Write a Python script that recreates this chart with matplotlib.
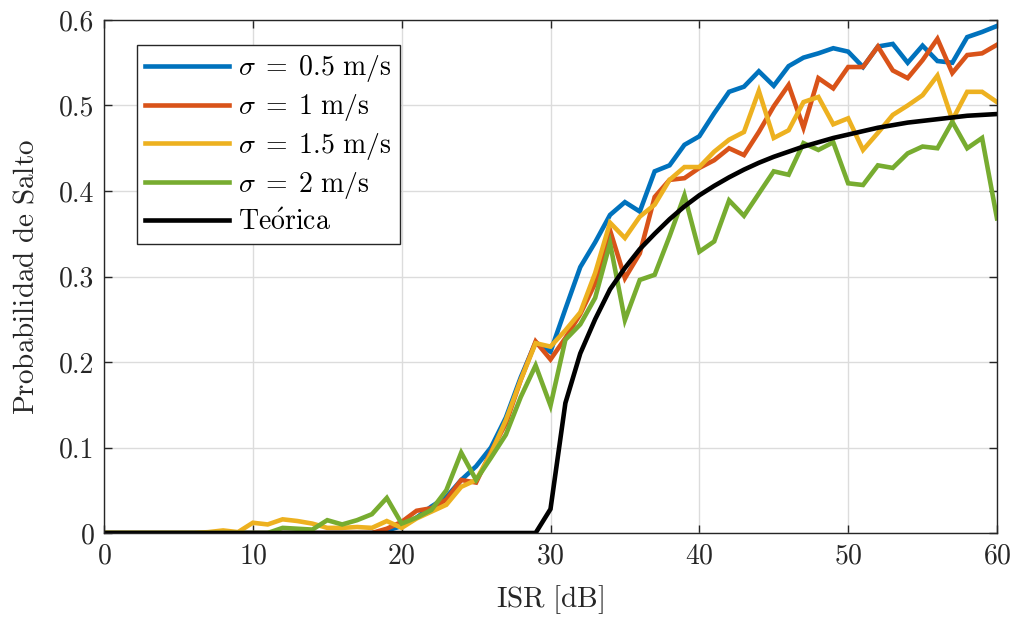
import numpy as np
import matplotlib
matplotlib.use("Agg")
import matplotlib.pyplot as plt

# ISR en dB, un punto por dB
isr = np.arange(0, 61)

ceros19 = [0.0] * 19

p_05 = ceros19 + [0.003, 0.008, 0.018, 0.031, 0.042, 0.062, 0.078, 0.100, 0.135, 0.182,
                  0.223, 0.212, 0.262, 0.311, 0.340, 0.372, 0.387, 0.376, 0.423, 0.430,
                  0.454, 0.464, 0.491, 0.516, 0.522, 0.540, 0.523, 0.546, 0.556, 0.561,
                  0.567, 0.563, 0.545, 0.569, 0.572, 0.550, 0.570, 0.552, 0.550, 0.580,
                  0.586, 0.593]

p_1 = ceros19 + [0.005, 0.013, 0.026, 0.029, 0.039, 0.062, 0.059, 0.095, 0.128, 0.179,
                 0.224, 0.203, 0.228, 0.256, 0.292, 0.354, 0.298, 0.327, 0.393, 0.413,
                 0.415, 0.427, 0.436, 0.450, 0.442, 0.469, 0.499, 0.524, 0.474, 0.532,
                 0.520, 0.545, 0.545, 0.569, 0.541, 0.532, 0.553, 0.578, 0.538, 0.559,
                 0.561, 0.571]

p_15 = [0.0] * 7 + [0.001, 0.003, 0.001, 0.012, 0.010, 0.016, 0.014, 0.011, 0.006, 0.006,
                    0.007, 0.006, 0.014, 0.006, 0.017, 0.025, 0.033, 0.054, 0.062, 0.093,
                    0.132, 0.179, 0.222, 0.218, 0.237, 0.258, 0.304, 0.363, 0.345, 0.370,
                    0.384, 0.413, 0.428, 0.428, 0.446, 0.460, 0.469, 0.517, 0.462, 0.471,
                    0.504, 0.510, 0.478, 0.485, 0.448, 0.468, 0.489, 0.500, 0.512, 0.535,
                    0.483, 0.516, 0.516, 0.504]

p_2 = [0.0] * 12 + [0.006, 0.005, 0.004, 0.015, 0.010, 0.015, 0.022, 0.041, 0.011, 0.018,
                    0.027, 0.050, 0.094, 0.062, 0.088, 0.115, 0.159, 0.196, 0.149, 0.226,
                    0.244, 0.275, 0.339, 0.249, 0.296, 0.302, 0.347, 0.395, 0.329, 0.341,
                    0.389, 0.371, 0.397, 0.423, 0.419, 0.456, 0.448, 0.457, 0.409, 0.407,
                    0.430, 0.427, 0.444, 0.452, 0.450, 0.481, 0.450, 0.462, 0.368]

p_teo = [0.0] * 30 + [0.028, 0.152, 0.210, 0.250, 0.285, 0.310, 0.332, 0.350, 0.367, 0.382,
                      0.395, 0.406, 0.416, 0.425, 0.433, 0.440, 0.446, 0.452, 0.457, 0.462,
                      0.466, 0.470, 0.474, 0.477, 0.480, 0.482, 0.484, 0.486, 0.488, 0.489,
                      0.490]

series = [
    (p_05, r'$\sigma \;=\; 0.5\ \mathrm{m/s}$', '#0072BD'),
    (p_1, r'$\sigma \;=\; 1\ \mathrm{m/s}$', '#D95319'),
    (p_15, r'$\sigma \;=\; 1.5\ \mathrm{m/s}$', '#EDB120'),
    (p_2, r'$\sigma \;=\; 2\ \mathrm{m/s}$', '#77AC30'),
    (p_teo, r'$\mathrm{Te\acute{o}rica}$', 'black'),
]

plt.rcParams['font.family'] = ['cmr10', 'DejaVu Serif']
plt.rcParams['mathtext.fontset'] = 'cm'
plt.rcParams['axes.formatter.use_mathtext'] = True

fig = plt.figure(figsize=(10.14, 6.21), dpi=100)
ax = fig.add_axes([0.1026, 0.1417, 0.8806, 0.8261])

for valores, etiqueta, color in series:
    ax.plot(isr, valores, color=color, linewidth=3.3, label=etiqueta, solid_joinstyle='miter')

ax.set_xlim(0, 60)
ax.set_ylim(0, 0.6)
ax.set_xticks([0, 10, 20, 30, 40, 50, 60])
ax.set_yticks([0, 0.1, 0.2, 0.3, 0.4, 0.5, 0.6])
ax.set_yticklabels(['0', '0.1', '0.2', '0.3', '0.4', '0.5', '0.6'])
ax.grid(True, color='#dcdcdc', linewidth=1)
ax.set_axisbelow(True)
ax.tick_params(direction='in', top=True, right=True, length=6, width=1,
               labelsize=20, colors='#262626', pad=7)
for s in ax.spines.values():
    s.set_color('#262626')
    s.set_linewidth(1)

ax.set_xlabel(r'$\mathrm{ISR\ [dB]}$', fontsize=21, color='#262626', labelpad=10)
ax.set_ylabel(r'$\mathrm{Probabilidad\ de\ Salto}$', fontsize=21, color='#262626', labelpad=14)

leg = ax.legend(loc='upper left', bbox_to_anchor=(0.037, 0.951), fontsize=20,
                handlelength=3.0, fancybox=False, framealpha=1, borderpad=0.3,
                labelspacing=0.28, handletextpad=0.35, borderaxespad=0)
leg.get_frame().set_edgecolor('#262626')
leg.get_frame().set_linewidth(1)

fig.savefig('out.png', dpi=100)
